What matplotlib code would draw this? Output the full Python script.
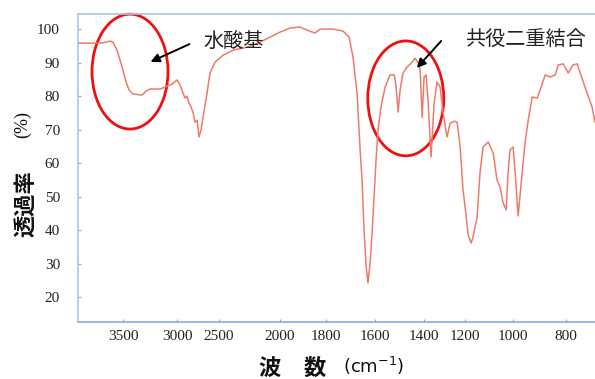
import numpy as np
import matplotlib
matplotlib.use("Agg")
import matplotlib.pyplot as plt
from matplotlib.patches import Ellipse
from matplotlib.ticker import FixedLocator, FixedFormatter

# ---- data (IR spectrum) ----
wavenumber = [3917, 3713, 3657, 3620, 3593, 3556, 3509, 3472, 3444, 3407, 3324, 3287,
              3250, 3157, 3111, 3046, 3000, 2964, 2929, 2905, 2881, 2857, 2833, 2810,
              2786, 2762, 2738, 2714, 2690, 2643, 2607, 2548, 2467, 2385, 2270, 2164,
              2082, 2000, 1957, 1913, 1883, 1848, 1826, 1771, 1731, 1706, 1690, 1673,
              1661, 1653, 1645, 1637, 1629, 1620, 1612, 1604, 1596, 1588, 1576, 1559,
              1539, 1522, 1514, 1506, 1498, 1486, 1469, 1449, 1437, 1424, 1416, 1408,
              1400, 1390, 1380, 1366, 1351, 1337, 1322, 1307, 1288, 1273, 1249, 1239,
              1224, 1210, 1200, 1187, 1175, 1167, 1150, 1138, 1125, 1104, 1083, 1067,
              1054, 1042, 1029, 1021, 1013, 1000, 992, 981, 966, 955, 943, 928,
              909, 898, 879, 860, 841, 830, 811, 792, 774, 758, 747, 721, 702, 691]
transmittance = [95.8, 95.8, 96.1, 96.4, 96.1, 93.7, 88.7, 84.2, 81.8, 80.6, 80.3, 81.5,
                 82.1, 82.1, 82.7, 83.6, 84.8, 83.3, 80.9, 79.4, 80.0, 77.9, 76.7, 75.2,
                 72.2, 72.8, 67.8, 69.9, 73.7, 80.9, 86.9, 90.1, 92.2, 93.7, 94.6, 96.1,
                 97.6, 99.1, 100.3, 100.6, 99.7, 98.8, 100.0, 100.0, 99.4, 97.6, 91.6, 80.3,
                 63.9, 54.9, 40.0, 29.6, 24.2, 30.4, 39.4, 50.4, 60.9, 69.9, 76.7, 82.7,
                 86.3, 86.3, 82.7, 75.2, 81.8, 86.9, 88.7, 90.1, 91.3, 89.9, 87.8, 73.7,
                 85.7, 86.3, 77.9, 61.8, 77.9, 84.2, 82.7, 74.9, 67.8, 71.9, 72.5, 72.2,
                 64.8, 51.9, 46.9, 38.5, 36.1, 37.9, 43.9, 57.0, 64.8, 66.3, 63.0, 54.9,
                 52.8, 48.1, 46.0, 57.0, 63.9, 64.8, 57.0, 44.2, 57.0, 66.0, 72.8, 79.7,
                 79.4, 81.8, 86.3, 85.7, 86.3, 89.3, 89.6, 86.9, 89.3, 89.6, 86.9, 80.9, 76.7, 72.2]

x_ticks = [3500, 3000, 2500, 2000, 1800, 1600, 1400, 1200, 1000, 800]
y_ticks = [20, 30, 40, 50, 60, 70, 80, 90, 100]

# chart-paper abscissa (expanded below 2000 cm-1), as relative paper positions
paper_wn = [600, 800, 1000, 1200, 1400, 1600, 1800, 2000, 2500, 3000, 3500, 4100]
paper_pos = [619, 566, 513, 465, 424, 375, 326, 280, 219, 177, 123, 58.2]


def forward(w):
    return -np.interp(np.asarray(w, float), paper_wn, paper_pos)


def inverse(p):
    return np.interp(-np.asarray(p, float), paper_pos[::-1], paper_wn[::-1])


plt.rcParams['font.family'] = ['Noto Sans CJK JP', 'DejaVu Sans']

fig = plt.figure(figsize=(5.95, 3.79), dpi=100)
ax = fig.add_axes([78 / 595, 57 / 379, 517 / 595, 308 / 379])

ax.set_xscale('function', functions=(forward, inverse))
ax.plot(wavenumber, transmittance, color='#ee7a6a', lw=1.1)
ax.set_xlim(3917, 691)
ax.set_ylim(12.54, 104.5)

ax.xaxis.set_major_locator(FixedLocator(x_ticks))
ax.xaxis.set_major_formatter(FixedFormatter([str(v) for v in x_ticks]))
ax.xaxis.set_minor_locator(FixedLocator([]))
ax.set_yticks(y_ticks)
ax.set_yticklabels([str(v) for v in y_ticks])

for lab in ax.get_xticklabels() + ax.get_yticklabels():
    lab.set_family('Liberation Serif')
    lab.set_fontsize(11)
    lab.set_color('#222222')
ax.tick_params(axis='x', length=2, direction='in', color='#e88', pad=6)
ax.tick_params(axis='y', length=2, direction='in', color='#e88', pad=13)

for s in ['left', 'top', 'bottom']:
    ax.spines[s].set_color('#a9c3e6')
    ax.spines[s].set_linewidth(1.2)
ax.spines['bottom'].set_color('#8fa8dc')
ax.spines['right'].set_visible(False)

# highlight ellipses
for cx, cy in [(0.1006, 0.813), (0.634, 0.726)]:
    ax.add_patch(Ellipse((cx, cy), 0.147, 0.373, transform=ax.transAxes,
                         fill=False, edgecolor='#ee1111', lw=2.0, clip_on=False))

# annotations
ax.annotate('', xy=(0.1354, 0.8409), xytext=(0.2205, 0.906), xycoords='axes fraction',
            arrowprops=dict(arrowstyle='-|>', color='black', lw=1.4, mutation_scale=13))
ax.annotate('', xy=(0.6518, 0.8182), xytext=(0.706, 0.919), xycoords='axes fraction',
            arrowprops=dict(arrowstyle='-|>', color='black', lw=1.4, mutation_scale=13))
fig.text(203 / 595, 1 - 42 / 379, '水酸基', fontsize=14.5, color='#222222',
         ha='left', va='center')
fig.text(465 / 595, 1 - 39 / 379, '共役二重結合', fontsize=14.5, color='#222222',
         ha='left', va='center')

# axis titles
fig.text(26 / 595, 1 - 204 / 379, '透過率', fontsize=16, fontweight='bold',
         rotation=90, ha='center', va='center', color='#111111')
fig.text(23 / 595, 1 - 125 / 379, '(%)', fontsize=13, rotation=90,
         ha='center', va='center', color='#111111', family='Liberation Serif')
fig.text(269 / 595, 1 - 368 / 379, '波', fontsize=16, fontweight='bold',
         ha='center', va='center', color='#111111')
fig.text(315 / 595, 1 - 368 / 379, '数', fontsize=16, fontweight='bold',
         ha='center', va='center', color='#111111')
fig.text(343 / 595, 1 - 366 / 379, '(cm$^{-1}$)', fontsize=13,
         ha='left', va='center', color='#111111', family='DejaVu Sans')

fig.savefig('out.png', dpi=100)
